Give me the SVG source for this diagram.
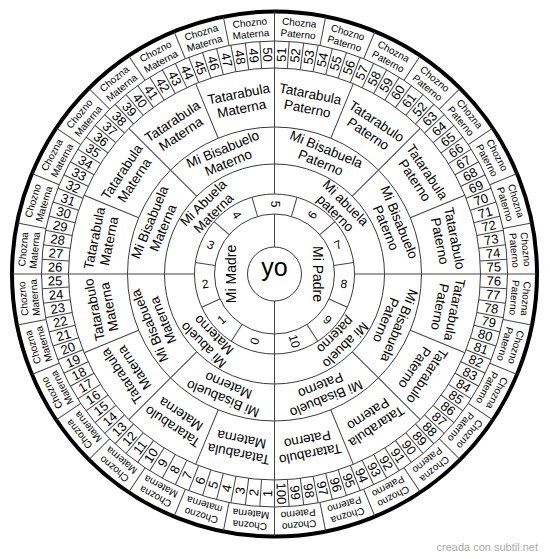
<svg xmlns="http://www.w3.org/2000/svg" width="550" height="559" viewBox="0 0 550 559">
<style>
.c{fill:none;stroke:#3a3a3a;stroke-width:1}
.o{fill:none;stroke:#000;stroke-width:4}
line{stroke:#444;stroke-width:1}
text{font-family:"Liberation Sans",Arial,Helvetica,sans-serif;fill:#000;text-anchor:middle;dominant-baseline:central}
.t1{font-size:14px}
.t2{font-size:12px}
.t3,.t4,.t5{font-size:13.5px}
.t6{font-size:13px}
.t7{font-size:10px}
.yo{font-size:25px;dominant-baseline:auto}
.wm{font-size:11px;fill:#aaa;text-anchor:end;dominant-baseline:auto}
</style>
<defs>
<line id="L2" x1="0" y1="-60" x2="0" y2="-80"/>
<line id="L4" x1="0" y1="-110" x2="0" y2="-147"/>
<line id="L5" x1="0" y1="-147" x2="0" y2="-206"/>
<line id="L6" x1="0" y1="-206" x2="0" y2="-233"/>
<line id="L7" x1="0" y1="-233" x2="0" y2="-262"/>
<g id="Q">
<use href="#L4" transform="rotate(45)"/>
<use href="#L5" transform="rotate(22.5)"/><use href="#L5" transform="rotate(45)"/><use href="#L5" transform="rotate(67.5)"/>
<use href="#L6" transform="rotate(3.6)"/><use href="#L6" transform="rotate(7.2)"/><use href="#L6" transform="rotate(10.8)"/><use href="#L6" transform="rotate(14.4)"/><use href="#L6" transform="rotate(18)"/><use href="#L6" transform="rotate(21.6)"/><use href="#L6" transform="rotate(25.2)"/><use href="#L6" transform="rotate(28.8)"/><use href="#L6" transform="rotate(32.4)"/><use href="#L6" transform="rotate(36)"/><use href="#L6" transform="rotate(39.6)"/><use href="#L6" transform="rotate(43.2)"/><use href="#L6" transform="rotate(46.8)"/><use href="#L6" transform="rotate(50.4)"/><use href="#L6" transform="rotate(54)"/><use href="#L6" transform="rotate(57.6)"/><use href="#L6" transform="rotate(61.2)"/><use href="#L6" transform="rotate(64.8)"/><use href="#L6" transform="rotate(68.4)"/><use href="#L6" transform="rotate(72)"/><use href="#L6" transform="rotate(75.6)"/><use href="#L6" transform="rotate(79.2)"/><use href="#L6" transform="rotate(82.8)"/><use href="#L6" transform="rotate(86.4)"/>
<use href="#L7" transform="rotate(11.25)"/><use href="#L7" transform="rotate(22.5)"/><use href="#L7" transform="rotate(33.75)"/><use href="#L7" transform="rotate(45)"/><use href="#L7" transform="rotate(56.25)"/><use href="#L7" transform="rotate(67.5)"/><use href="#L7" transform="rotate(78.75)"/>
</g>
</defs>
<rect width="550" height="559" fill="#fff"/>
<g transform="translate(274.5,274)">
<g id="rings">
<circle class="c" r="27"/><circle class="c" r="60"/><circle class="c" r="80"/><circle class="c" r="110"/><circle class="c" r="147"/><circle class="c" r="206"/><circle class="c" r="233"/>
<circle class="o" r="262.5"/>
</g>
<g id="dividers" stroke="#444" stroke-width="1">
<line x1="0" y1="-262" x2="0" y2="-80"/><line x1="0" y1="-60" x2="0" y2="-27"/><line x1="0" y1="27" x2="0" y2="262"/>
<line x1="-262" y1="0" x2="-80" y2="0"/><line x1="80" y1="0" x2="262" y2="0"/>
<use href="#L2" transform="rotate(16.364)"/><use href="#L2" transform="rotate(49.091)"/><use href="#L2" transform="rotate(81.818)"/><use href="#L2" transform="rotate(114.545)"/><use href="#L2" transform="rotate(147.273)"/><use href="#L2" transform="rotate(212.727)"/><use href="#L2" transform="rotate(245.455)"/><use href="#L2" transform="rotate(278.182)"/><use href="#L2" transform="rotate(310.909)"/><use href="#L2" transform="rotate(343.636)"/>
<use href="#Q"/><use href="#Q" transform="rotate(90)"/><use href="#Q" transform="rotate(180)"/><use href="#Q" transform="rotate(270)"/>
</g>
<g id="center">
<text class="yo" x="0" y="2">yo</text>
</g>
<g id="parents" class="t1">
<text transform="rotate(270)" y="-43.5">Mi Madre</text>
<text transform="rotate(90)" y="-43.5">Mi Padre</text>
</g>
<g id="ring2" class="t2">
<text transform="rotate(-73.64) translate(-70)">0</text>
<text transform="rotate(-40.91) translate(-70)">1</text>
<text transform="rotate(-8.18) translate(-70)">2</text>
<text transform="rotate(24.55) translate(-70)">3</text>
<text transform="rotate(57.27) translate(-70)">4</text>
<text transform="rotate(90) translate(-70)">5</text>
<text transform="rotate(-57.27) translate(70)">6</text>
<text transform="rotate(-24.55) translate(70)">7</text>
<text transform="rotate(8.18) translate(70)">8</text>
<text transform="rotate(40.91) translate(70)">9</text>
<text transform="rotate(73.64) translate(70)">10</text>
</g>
<g id="abuelos" class="t3">
<text transform="rotate(45)"><tspan x="0" y="-101">Mi abuela</tspan><tspan x="0" y="-86.5">paterno</tspan></text>
<text transform="rotate(135)"><tspan x="0" y="-101">Mi abuelo</tspan><tspan x="0" y="-86.5">paterno</tspan></text>
<text transform="rotate(225)"><tspan x="0" y="-101">Mi abuelo</tspan><tspan x="0" y="-86.5">Materno</tspan></text>
<text transform="rotate(315)"><tspan x="0" y="-101">Mi Abuela</tspan><tspan x="0" y="-86.5">Materna</tspan></text>
</g>
<g id="bisabuelos" class="t4">
<text transform="rotate(22.5)"><tspan x="0" y="-135.5">Mi Bisabuela</tspan><tspan x="0" y="-121">Paterno</tspan></text>
<text transform="rotate(67.5)"><tspan x="0" y="-135.5">Mi Bisabuelo</tspan><tspan x="0" y="-121">Paterno</tspan></text>
<text transform="rotate(112.5)"><tspan x="0" y="-135.5">Mi Bisabuela</tspan><tspan x="0" y="-121">Paterno</tspan></text>
<text transform="rotate(157.5)"><tspan x="0" y="-135.5">Mi Bisabuelo</tspan><tspan x="0" y="-121">Paterno</tspan></text>
<text transform="rotate(202.5)"><tspan x="0" y="-135.5">Mi Bisabuelo</tspan><tspan x="0" y="-121">Materno</tspan></text>
<text transform="rotate(247.5)"><tspan x="0" y="-135.5">Mi Bisabuela</tspan><tspan x="0" y="-121">Materna</tspan></text>
<text transform="rotate(292.5)"><tspan x="0" y="-135.5">Mi Bisabuela</tspan><tspan x="0" y="-121">Materna</tspan></text>
<text transform="rotate(337.5)"><tspan x="0" y="-135.5">Mi Bisabuelo</tspan><tspan x="0" y="-121">Materno</tspan></text>
</g>
<g id="tatarabuelos" class="t5">
<text transform="rotate(11.25)"><tspan x="0" y="-184">Tatarabula</tspan><tspan x="0" y="-169">Paterno</tspan></text>
<text transform="rotate(33.75)"><tspan x="0" y="-184">Tatarabulo</tspan><tspan x="0" y="-169">Paterno</tspan></text>
<text transform="rotate(56.25)"><tspan x="0" y="-184">Tatarabula</tspan><tspan x="0" y="-169">Paterno</tspan></text>
<text transform="rotate(78.75)"><tspan x="0" y="-184">Tatarabulo</tspan><tspan x="0" y="-169">Paterno</tspan></text>
<text transform="rotate(101.25)"><tspan x="0" y="-184">Tatarabula</tspan><tspan x="0" y="-169">Paterno</tspan></text>
<text transform="rotate(123.75)"><tspan x="0" y="-184">Tatarabulo</tspan><tspan x="0" y="-169">Paterno</tspan></text>
<text transform="rotate(146.25)"><tspan x="0" y="-184">Tatarabula</tspan><tspan x="0" y="-169">Paterno</tspan></text>
<text transform="rotate(168.75)"><tspan x="0" y="-184">Tatarabulo</tspan><tspan x="0" y="-169">Paterno</tspan></text>
<text transform="rotate(191.25)"><tspan x="0" y="-184">Tatarabula</tspan><tspan x="0" y="-169">Materna</tspan></text>
<text transform="rotate(213.75)"><tspan x="0" y="-184">Tatarabulo</tspan><tspan x="0" y="-169">Materna</tspan></text>
<text transform="rotate(236.25)"><tspan x="0" y="-184">Tatarabula</tspan><tspan x="0" y="-169">Materna</tspan></text>
<text transform="rotate(258.75)"><tspan x="0" y="-184">Tatarabulo</tspan><tspan x="0" y="-169">Materna</tspan></text>
<text transform="rotate(281.25)"><tspan x="0" y="-184">Tatarabula</tspan><tspan x="0" y="-169">Materna</tspan></text>
<text transform="rotate(303.75)"><tspan x="0" y="-184">Tatarabula</tspan><tspan x="0" y="-169">Materna</tspan></text>
<text transform="rotate(326.25)"><tspan x="0" y="-184">Tatarabula</tspan><tspan x="0" y="-169">Materna</tspan></text>
<text transform="rotate(348.75)"><tspan x="0" y="-184">Tatarabula</tspan><tspan x="0" y="-169">Materna</tspan></text>
</g>
<g id="numeros" class="t6">
<text transform="rotate(-88.2) translate(-219.5)">1</text>
<text transform="rotate(-84.6) translate(-219.5)">2</text>
<text transform="rotate(-81) translate(-219.5)">3</text>
<text transform="rotate(-77.4) translate(-219.5)">4</text>
<text transform="rotate(-73.8) translate(-219.5)">5</text>
<text transform="rotate(-70.2) translate(-219.5)">6</text>
<text transform="rotate(-66.6) translate(-219.5)">7</text>
<text transform="rotate(-63) translate(-219.5)">8</text>
<text transform="rotate(-59.4) translate(-219.5)">9</text>
<text transform="rotate(-55.8) translate(-219.5)">10</text>
<text transform="rotate(-52.2) translate(-219.5)">11</text>
<text transform="rotate(-48.6) translate(-219.5)">12</text>
<text transform="rotate(-45) translate(-219.5)">13</text>
<text transform="rotate(-41.4) translate(-219.5)">14</text>
<text transform="rotate(-37.8) translate(-219.5)">15</text>
<text transform="rotate(-34.2) translate(-219.5)">16</text>
<text transform="rotate(-30.6) translate(-219.5)">17</text>
<text transform="rotate(-27) translate(-219.5)">18</text>
<text transform="rotate(-23.4) translate(-219.5)">19</text>
<text transform="rotate(-19.8) translate(-219.5)">20</text>
<text transform="rotate(-16.2) translate(-219.5)">21</text>
<text transform="rotate(-12.6) translate(-219.5)">22</text>
<text transform="rotate(-9) translate(-219.5)">23</text>
<text transform="rotate(-5.4) translate(-219.5)">24</text>
<text transform="rotate(-1.8) translate(-219.5)">25</text>
<text transform="rotate(1.8) translate(-219.5)">26</text>
<text transform="rotate(5.4) translate(-219.5)">27</text>
<text transform="rotate(9) translate(-219.5)">28</text>
<text transform="rotate(12.6) translate(-219.5)">29</text>
<text transform="rotate(16.2) translate(-219.5)">30</text>
<text transform="rotate(19.8) translate(-219.5)">31</text>
<text transform="rotate(23.4) translate(-219.5)">32</text>
<text transform="rotate(27) translate(-219.5)">33</text>
<text transform="rotate(30.6) translate(-219.5)">34</text>
<text transform="rotate(34.2) translate(-219.5)">35</text>
<text transform="rotate(37.8) translate(-219.5)">36</text>
<text transform="rotate(41.4) translate(-219.5)">37</text>
<text transform="rotate(45) translate(-219.5)">38</text>
<text transform="rotate(48.6) translate(-219.5)">39</text>
<text transform="rotate(52.2) translate(-219.5)">40</text>
<text transform="rotate(55.8) translate(-219.5)">41</text>
<text transform="rotate(59.4) translate(-219.5)">42</text>
<text transform="rotate(63) translate(-219.5)">43</text>
<text transform="rotate(66.6) translate(-219.5)">44</text>
<text transform="rotate(70.2) translate(-219.5)">45</text>
<text transform="rotate(73.8) translate(-219.5)">46</text>
<text transform="rotate(77.4) translate(-219.5)">47</text>
<text transform="rotate(81) translate(-219.5)">48</text>
<text transform="rotate(84.6) translate(-219.5)">49</text>
<text transform="rotate(88.2) translate(-219.5)">50</text>
<text transform="rotate(-88.2) translate(219.5)">51</text>
<text transform="rotate(-84.6) translate(219.5)">52</text>
<text transform="rotate(-81) translate(219.5)">53</text>
<text transform="rotate(-77.4) translate(219.5)">54</text>
<text transform="rotate(-73.8) translate(219.5)">55</text>
<text transform="rotate(-70.2) translate(219.5)">56</text>
<text transform="rotate(-66.6) translate(219.5)">57</text>
<text transform="rotate(-63) translate(219.5)">58</text>
<text transform="rotate(-59.4) translate(219.5)">59</text>
<text transform="rotate(-55.8) translate(219.5)">60</text>
<text transform="rotate(-52.2) translate(219.5)">61</text>
<text transform="rotate(-48.6) translate(219.5)">52</text>
<text transform="rotate(-45) translate(219.5)">63</text>
<text transform="rotate(-41.4) translate(219.5)">64</text>
<text transform="rotate(-37.8) translate(219.5)">65</text>
<text transform="rotate(-34.2) translate(219.5)">66</text>
<text transform="rotate(-30.6) translate(219.5)">67</text>
<text transform="rotate(-27) translate(219.5)">68</text>
<text transform="rotate(-23.4) translate(219.5)">69</text>
<text transform="rotate(-19.8) translate(219.5)">70</text>
<text transform="rotate(-16.2) translate(219.5)">71</text>
<text transform="rotate(-12.6) translate(219.5)">72</text>
<text transform="rotate(-9) translate(219.5)">73</text>
<text transform="rotate(-5.4) translate(219.5)">74</text>
<text transform="rotate(-1.8) translate(219.5)">75</text>
<text transform="rotate(1.8) translate(219.5)">76</text>
<text transform="rotate(5.4) translate(219.5)">77</text>
<text transform="rotate(9) translate(219.5)">78</text>
<text transform="rotate(12.6) translate(219.5)">79</text>
<text transform="rotate(16.2) translate(219.5)">80</text>
<text transform="rotate(19.8) translate(219.5)">81</text>
<text transform="rotate(23.4) translate(219.5)">82</text>
<text transform="rotate(27) translate(219.5)">83</text>
<text transform="rotate(30.6) translate(219.5)">84</text>
<text transform="rotate(34.2) translate(219.5)">85</text>
<text transform="rotate(37.8) translate(219.5)">86</text>
<text transform="rotate(41.4) translate(219.5)">87</text>
<text transform="rotate(45) translate(219.5)">88</text>
<text transform="rotate(48.6) translate(219.5)">89</text>
<text transform="rotate(52.2) translate(219.5)">90</text>
<text transform="rotate(55.8) translate(219.5)">91</text>
<text transform="rotate(59.4) translate(219.5)">92</text>
<text transform="rotate(63) translate(219.5)">93</text>
<text transform="rotate(66.6) translate(219.5)">94</text>
<text transform="rotate(70.2) translate(219.5)">95</text>
<text transform="rotate(73.8) translate(219.5)">96</text>
<text transform="rotate(77.4) translate(219.5)">97</text>
<text transform="rotate(81) translate(219.5)">98</text>
<text transform="rotate(84.6) translate(219.5)">99</text>
<text transform="rotate(88.2) translate(219.5)">100</text>
</g>
<g id="choznos" class="t7">
<text transform="rotate(5.625)"><tspan x="0" y="-253">Chozna</tspan><tspan x="0" y="-241.5">Paterno</tspan></text>
<text transform="rotate(16.875)"><tspan x="0" y="-253">Chozno</tspan><tspan x="0" y="-241.5">Paterno</tspan></text>
<text transform="rotate(28.125)"><tspan x="0" y="-253">Chozna</tspan><tspan x="0" y="-241.5">Paterno</tspan></text>
<text transform="rotate(39.375)"><tspan x="0" y="-253">Chozno</tspan><tspan x="0" y="-241.5">Paterno</tspan></text>
<text transform="rotate(50.625)"><tspan x="0" y="-253">Chozna</tspan><tspan x="0" y="-241.5">Paterno</tspan></text>
<text transform="rotate(61.875)"><tspan x="0" y="-253">Chozno</tspan><tspan x="0" y="-241.5">Paterno</tspan></text>
<text transform="rotate(73.125)"><tspan x="0" y="-253">Chozna</tspan><tspan x="0" y="-241.5">Paterno</tspan></text>
<text transform="rotate(84.375)"><tspan x="0" y="-253">Chozno</tspan><tspan x="0" y="-241.5">Paterno</tspan></text>
<text transform="rotate(95.625)"><tspan x="0" y="-253">Chozna</tspan><tspan x="0" y="-241.5">Paterno</tspan></text>
<text transform="rotate(106.875)"><tspan x="0" y="-253">Chozno</tspan><tspan x="0" y="-241.5">Paterno</tspan></text>
<text transform="rotate(118.125)"><tspan x="0" y="-253">Chozna</tspan><tspan x="0" y="-241.5">Paterno</tspan></text>
<text transform="rotate(129.375)"><tspan x="0" y="-253">Chozno</tspan><tspan x="0" y="-241.5">Paterno</tspan></text>
<text transform="rotate(140.625)"><tspan x="0" y="-253">Chozna</tspan><tspan x="0" y="-241.5">Paterno</tspan></text>
<text transform="rotate(151.875)"><tspan x="0" y="-253">Chozno</tspan><tspan x="0" y="-241.5">Paterno</tspan></text>
<text transform="rotate(163.125)"><tspan x="0" y="-253">Chozna</tspan><tspan x="0" y="-241.5">Paterno</tspan></text>
<text transform="rotate(174.375)"><tspan x="0" y="-253">Chozno</tspan><tspan x="0" y="-241.5">Paterno</tspan></text>
<text transform="rotate(185.625)"><tspan x="0" y="-253">Chozna</tspan><tspan x="0" y="-241.5">Materna</tspan></text>
<text transform="rotate(196.875)"><tspan x="0" y="-253">Chozno</tspan><tspan x="0" y="-241.5">materna</tspan></text>
<text transform="rotate(208.125)"><tspan x="0" y="-253">Chozna</tspan><tspan x="0" y="-241.5">Materna</tspan></text>
<text transform="rotate(219.375)"><tspan x="0" y="-253">Chozno</tspan><tspan x="0" y="-241.5">Materna</tspan></text>
<text transform="rotate(230.625)"><tspan x="0" y="-253">Chozna</tspan><tspan x="0" y="-241.5">Materna</tspan></text>
<text transform="rotate(241.875)"><tspan x="0" y="-253">Chozno</tspan><tspan x="0" y="-241.5">Materna</tspan></text>
<text transform="rotate(253.125)"><tspan x="0" y="-253">Chozna</tspan><tspan x="0" y="-241.5">Materna</tspan></text>
<text transform="rotate(264.375)"><tspan x="0" y="-253">Chozno</tspan><tspan x="0" y="-241.5">Materna</tspan></text>
<text transform="rotate(275.625)"><tspan x="0" y="-253">Chozna</tspan><tspan x="0" y="-241.5">Materna</tspan></text>
<text transform="rotate(286.875)"><tspan x="0" y="-253">Chozno</tspan><tspan x="0" y="-241.5">Materna</tspan></text>
<text transform="rotate(298.125)"><tspan x="0" y="-253">Chozna</tspan><tspan x="0" y="-241.5">Materna</tspan></text>
<text transform="rotate(309.375)"><tspan x="0" y="-253">Chozno</tspan><tspan x="0" y="-241.5">Materna</tspan></text>
<text transform="rotate(320.625)"><tspan x="0" y="-253">Chozna</tspan><tspan x="0" y="-241.5">Materna</tspan></text>
<text transform="rotate(331.875)"><tspan x="0" y="-253">Chozno</tspan><tspan x="0" y="-241.5">Materna</tspan></text>
<text transform="rotate(343.125)"><tspan x="0" y="-253">Chozna</tspan><tspan x="0" y="-241.5">Materna</tspan></text>
<text transform="rotate(354.375)"><tspan x="0" y="-253">Chozno</tspan><tspan x="0" y="-241.5">Materna</tspan></text>
</g>
</g>
<text class="wm" x="538" y="551">creada con subtil.net</text>
</svg>
